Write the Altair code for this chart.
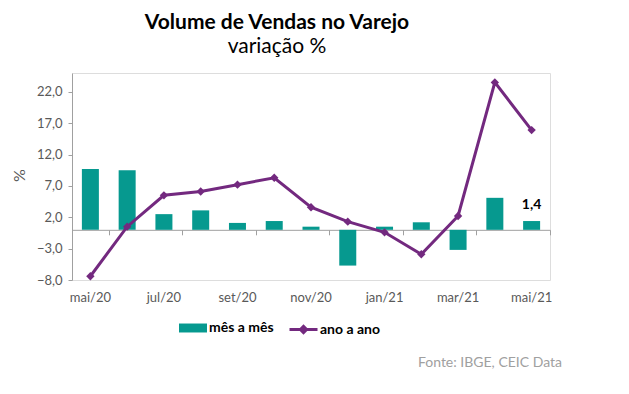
import altair as alt
import pandas as pd

months = ["mai/20", "jun/20", "jul/20", "ago/20", "set/20", "out/20", "nov/20",
          "dez/20", "jan/21", "fev/21", "mar/21", "abr/21", "mai/21"]
mes_a_mes = [9.7, 9.5, 2.5, 3.1, 1.1, 1.4, 0.5, -5.7, 0.5, 1.2, -3.2, 5.1, 1.4]
ano_a_ano = [-7.4, 0.5, 5.5, 6.1, 7.2, 8.3, 3.6, 1.3, -0.4, -3.9, 2.2, 23.5, 15.9]
y_ticks = [-8, -3, 2, 7, 12, 17, 22]
x_labels = ["mai/20", "jul/20", "set/20", "nov/20", "jan/21", "mar/21", "mai/21"]
y_domain = [-8, 25]

TEAL = "#06998F"
PURPLE = "#73297F"
GRAY = "#A0A0A0"
LABEL = "#595959"
FONT = "Lato"

W, H = 478, 207
zero_offset = -(H - H * y_domain[1] / (y_domain[1] - y_domain[0]))

df = pd.DataFrame({
    "mes": months,
    "mm": mes_a_mes,
    "aa": ano_a_ano,
    "s1": ["mês a mês"] * len(months),
    "s2": ["ano a ano"] * len(months),
})

xsort = months
yscale = alt.Scale(domain=y_domain, nice=False, zero=False)

yaxis = alt.Axis(
    values=y_ticks, grid=False, title="%", titleAngle=-90, orient="left",
    titleX=-53, titleY=102, titleAlign="center", titleBaseline="middle",
    titleFont=FONT, titleFontSize=16, titleFontWeight="normal", titleColor=LABEL,
    labelExpr="replace(format(datum.value, '.1f'), '.', ',')",
    labelFont=FONT, labelFontSize=13, labelColor=LABEL, labelPadding=6,
    domainColor=GRAY, tickColor=GRAY, tickSize=4,
)

bars = alt.Chart(df).mark_bar(size=17).encode(
    x=alt.X("mes:N", sort=xsort, title=None,
            scale=alt.Scale(paddingInner=0, paddingOuter=0),
            axis=alt.Axis(values=x_labels, labelAngle=0, domain=False, ticks=False,
                          grid=False, orient="bottom",
                          labelFont=FONT, labelFontSize=13, labelColor=LABEL,
                          labelPadding=11)),
    y=alt.Y("mm:Q", scale=yscale, axis=yaxis, title="%"),
    fill=alt.Fill("s1:N", scale=alt.Scale(domain=["mês a mês"], range=[TEAL]),
                  legend=alt.Legend(title=None, orient="none", legendX=107, legendY=241,
                                    symbolType="M-1,-0.32H1V0.32H-1Z", symbolSize=784,
                                    symbolStrokeWidth=0, labelOffset=2,
                                    labelFont=FONT, labelFontSize=14,
                                    labelFontWeight="bold", labelColor="black",
                                    padding=0)),
)

line = alt.Chart(df).mark_line(strokeWidth=3).encode(
    x=alt.X("mes:N", sort=xsort, title=None,
            axis=alt.Axis(values=x_labels, labels=False, tickBand="extent",
                          grid=False, orient="bottom",
                          domainColor=GRAY, tickColor=GRAY, tickSize=5,
                          offset=zero_offset)),
    y=alt.Y("aa:Q", scale=yscale, axis=yaxis, title="%"),
    stroke=alt.Stroke("s2:N", scale=alt.Scale(domain=["ano a ano"], range=[PURPLE]),
                      legend=alt.Legend(title=None, orient="none", legendX=216, legendY=241,
                                        symbolType="M-1,0H1M-0.22,0L0,-0.22L0.22,0L0,0.22Z",
                                        symbolSize=784, symbolStrokeWidth=3,
                                        symbolFillColor=PURPLE, labelOffset=1,
                                        labelFont=FONT, labelFontSize=14,
                                        labelFontWeight="bold", labelColor="black",
                                        padding=0)),
)

points = alt.Chart(df).mark_point(shape="diamond", filled=True, size=70,
                                  color=PURPLE, opacity=1).encode(
    x=alt.X("mes:N", sort=xsort, axis=None),
    y=alt.Y("aa:Q", scale=yscale, axis=yaxis, title="%"),
)

label = alt.Chart(df).transform_filter(alt.datum.mes == "mai/21").transform_calculate(
    txt="replace(format(datum.mm, '.1f'), '.', ',')"
).mark_text(baseline="bottom", dy=-9, font=FONT, fontSize=14, fontWeight="bold",
            color="black").encode(
    x=alt.X("mes:N", sort=xsort, axis=None),
    y=alt.Y("mm:Q", scale=yscale, axis=yaxis, title="%"),
    text="txt:N",
)

fonte = alt.Chart(pd.DataFrame({"t": ["Fonte: IBGE, CEIC Data"]})).mark_text(
    align="right", baseline="alphabetic", font=FONT, fontSize=14, color="#A0A0A0"
).encode(text="t:N", x=alt.value(490), y=alt.value(294))

chart = alt.layer(bars, line, points, label, fonte).resolve_axis(
    x="independent"
).resolve_legend(fill="independent", stroke="independent").properties(
    width=W, height=H,
    title=alt.Title("Volume de Vendas no Varejo", subtitle="variação %",
                    font=FONT, fontSize=21, fontWeight="bold", color="black",
                    subtitleFont=FONT, subtitleFontSize=21, subtitleColor="black",
                    anchor="middle", dx=-34, offset=16, subtitlePadding=3),
    autosize=alt.AutoSizeParams(type="none"),
    padding={"left": 64, "top": 65, "right": 71, "bottom": 106},
).configure_view(stroke=None).configure(background="white")

chart.save("out.html", embed_options={"renderer": "svg", "actions": False})
